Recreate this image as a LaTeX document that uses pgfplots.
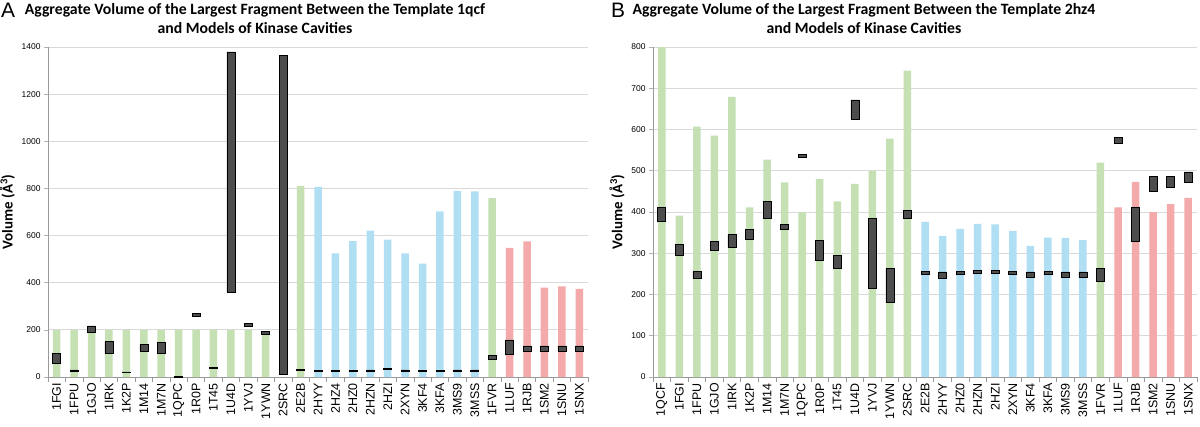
\documentclass[border=0pt]{standalone}
\usepackage{fontspec}
\setmainfont{Liberation Sans}
\newfontfamily\calibri{Carlito}
\usepackage{pgfplots}
\usepackage{pgfplotstable}
\pgfplotsset{compat=1.18}

\definecolor{kgreen}{RGB}{197,224,178}
\definecolor{kblue}{RGB}{176,222,243}
\definecolor{kred}{RGB}{244,170,170}
\definecolor{kdark}{RGB}{77,77,77}
\definecolor{kgrid}{RGB}{217,217,217}

\newcommand\ttl[1]{{\calibri\bfseries\fontsize{15.8}{18}\selectfont #1}}

% floating boxes: x, lower and upper volume
\pgfplotstableread{
x lo hi
0 58 100
1 26 30
2 188 217
3 100 150
4 18 22
5 108 140
6 100 147
7 0 3
8 256 270
9 36 40
10 360 1379
11 214 229
12 181 195
13 11 1363
14 28 32
15 25 29
16 25 29
17 25 29
18 26 30
19 32 36
20 26 30
21 25 29
22 25 29
23 26 30
24 26 30
25 74 92
26 98 157
27 110 132
28 110 132
29 110 132
30 110 132
}\boxesA

\pgfplotstableread{
x lo hi
0 377 412
1 296 322
2 240 256
3 308 328
4 315 345
5 333 357
6 385 425
7 357 370
8 532 539
9 282 331
10 263 294
11 625 672
12 214 384
13 180 264
14 384 403
15 249 256
16 239 255
17 249 256
18 251 258
19 252 259
20 249 256
21 241 255
22 249 256
23 241 255
24 241 255
25 231 263
26 566 580
27 328 412
28 449 486
29 460 486
30 472 497
}\boxesB

\pgfplotsset{
  panel/.style={
    scale only axis, anchor=south west,
    height=330bp,
    xmin=-0.5, xmax=30.5, ymin=0,
    axis x line*=bottom, axis y line*=left,
    axis line style={draw=gray!80, line width=0.6bp},
    ymajorgrids, grid style={draw=kgrid, line width=0.8bp},
    xtick={0,...,30}, xticklabels={},
    minor xtick={-0.5,0.5,...,30.5},
    major x tick style={draw=none},
    minor x tick style={draw=gray!80, line width=0.6bp},
    minor tick length=5bp,
    major tick length=4bp,
    y tick style={draw=gray!60, line width=0.6bp},
    tick align=outside,
    yticklabel={\fontsize{8.5}{9}\selectfont\pgfmathprintnumber{\tick}},
    /pgf/number format/assume math mode=true,
    /pgf/number format/1000 sep={},
    ylabel={\fontsize{15}{16}\selectfont\calibri\bfseries Volume (Å\textsuperscript{3})},
    ybar, bar width=7.5bp,
  },
  boxes/.style={
    scale only axis, anchor=south west,
    height=330bp,
    xmin=-0.5, xmax=30.5, ymin=0,
    hide axis,
    ybar stacked, bar width=8bp,
  },
}

\begin{document}
\begin{tikzpicture}
\useasboundingbox (0,0) rectangle (1200bp,-427bp);

% ---------- panel A ----------
\node[anchor=north west, inner sep=0pt] at (1bp,-3bp) {\fontsize{21}{22}\selectfont A};
\node[inner sep=0pt] at (255bp,-10bp) {\ttl{Aggregate Volume of the Largest Fragment Between the Template 1qcf}};
\node[inner sep=0pt] at (255bp,-28bp) {\ttl{and Models of Kinase Cavities}};

\begin{axis}[panel, at={(48bp,-377bp)}, width=540bp, ymax=1400, ytick distance=200]
\addplot[fill=kgreen, draw=none, bar shift=0pt] coordinates {
  (0,200) (1,200) (2,200) (3,200) (4,200) (5,200) (6,200) (7,200) (8,200) (9,200)
  (10,200) (11,200) (12,195) (14,811) (25,759)};
\addplot[fill=kblue, draw=none, bar shift=0pt] coordinates {
  (15,807) (16,524) (17,576) (18,621) (19,583) (20,524) (21,481) (22,703) (23,790) (24,788)};
\addplot[fill=kred, draw=none, bar shift=0pt] coordinates {
  (26,548) (27,575) (28,379) (29,385) (30,374)};
\end{axis}

\begin{axis}[boxes, at={(48bp,-377bp)}, width=540bp, ymax=1400]
\addplot[draw=none, fill=none] table[x=x, y=lo] {\boxesA};
\addplot[fill=kdark, draw=black, line width=0.6bp] table[x=x, y expr=\thisrow{hi}-\thisrow{lo}] {\boxesA};
\end{axis}

% category names under panel A (one per category slot of 540/31 bp)
\foreach \lab [count=\i from 0] in {1FGI,1FPU,1GJO,1IRK,1K2P,1M14,1M7N,1QPC,1R0P,1T45,1U4D,1YVJ,1YWN,2SRC,2E2B,2HYY,2HZ4,2HZ0,2HZN,2HZI,2XYN,3KF4,3KFA,3MS9,3MSS,1FVR,1LUF,1RJB,1SM2,1SNU,1SNX}
  \node[rotate=90, anchor=east, inner sep=0pt, font=\fontsize{12.5}{13}\selectfont]
    at ({48bp+(\i+0.5)*17.419bp}, -383bp) {\lab};

% ---------- panel B ----------
\node[anchor=north west, inner sep=0pt] at (611bp,-3bp) {\fontsize{21}{22}\selectfont B};
\node[inner sep=0pt] at (864bp,-10bp) {\ttl{Aggregate Volume of the Largest Fragment Between the Template 2hz4}};
\node[inner sep=0pt] at (864bp,-28bp) {\ttl{and Models of Kinase Cavities}};

\begin{axis}[panel, at={(653bp,-377bp)}, width=544bp, ymax=800, ytick distance=100]
\addplot[fill=kgreen, draw=none, bar shift=0pt] coordinates {
  (0,800) (1,391) (2,607) (3,585) (4,679) (5,411) (6,527) (7,472) (8,399) (9,480)
  (10,426) (11,468) (12,499) (13,578) (14,743) (25,520)};
\addplot[fill=kblue, draw=none, bar shift=0pt] coordinates {
  (15,376) (16,342) (17,359) (18,371) (19,370) (20,354) (21,318) (22,338) (23,337) (24,332)};
\addplot[fill=kred, draw=none, bar shift=0pt] coordinates {
  (26,411) (27,473) (28,400) (29,419) (30,434)};
\end{axis}

\begin{axis}[boxes, at={(653bp,-377bp)}, width=544bp, ymax=800]
\addplot[draw=none, fill=none] table[x=x, y=lo] {\boxesB};
\addplot[fill=kdark, draw=black, line width=0.6bp] table[x=x, y expr=\thisrow{hi}-\thisrow{lo}] {\boxesB};
\end{axis}

% category names under panel B (one per category slot of 544/31 bp)
\foreach \lab [count=\i from 0] in {1QCF,1FGI,1FPU,1GJO,1IRK,1K2P,1M14,1M7N,1QPC,1R0P,1T45,1U4D,1YVJ,1YWN,2SRC,2E2B,2HYY,2HZ0,2HZN,2HZI,2XYN,3KF4,3KFA,3MS9,3MSS,1FVR,1LUF,1RJB,1SM2,1SNU,1SNX}
  \node[rotate=90, anchor=east, inner sep=0pt, font=\fontsize{12.5}{13}\selectfont]
    at ({653bp+(\i+0.5)*17.548bp}, -383bp) {\lab};
\end{tikzpicture}
\end{document}
